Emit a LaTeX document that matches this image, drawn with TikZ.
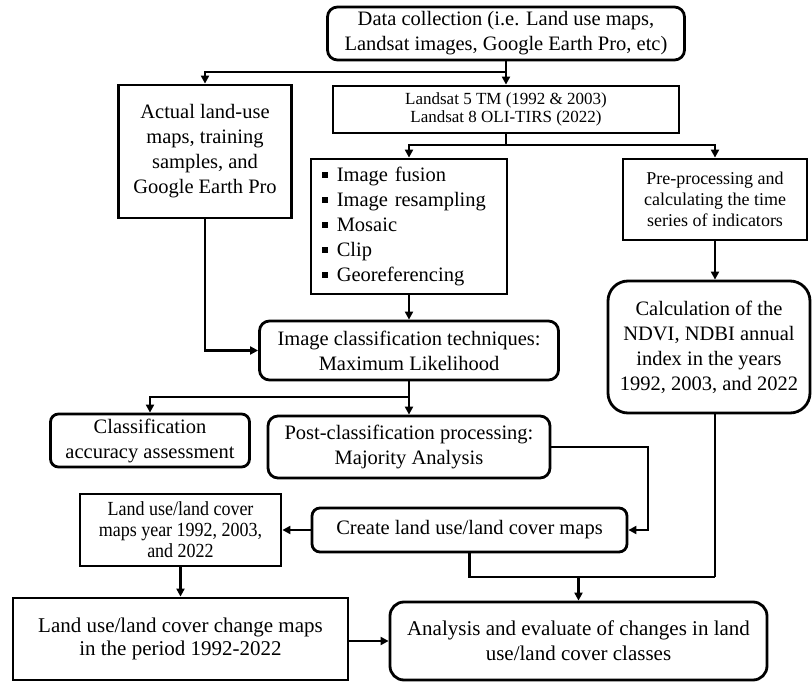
\documentclass[tikz,border=0pt]{standalone}
\usepackage{fontspec}
\setmainfont{Liberation Serif}
\newfontfamily\narrowfont[FakeStretch=0.9]{Liberation Serif}
\usetikzlibrary{arrows.meta}
\newcommand{\sqb}{\rule[0.18em]{0.27em}{0.27em}\hspace{0.45em}}
\begin{document}
\begin{tikzpicture}[x=1pt,y=-1pt,
  box/.style={draw, line width=2.8pt, align=center, inner sep=0pt,
    font=\fontsize{20.5}{25}\selectfont},
  rbox/.style={box, rounded corners=10pt},
  conn/.style={line width=2.8pt},
  arr/.style={conn, -{Triangle[length=8pt,width=8pt]}}]
\useasboundingbox (0,0) rectangle (812,682);

% nodes
\node[rbox, minimum width=357pt, minimum height=53pt] (data) at (506,33.5)
  {Data collection (i.e. Land use maps,\\Landsat images, Google Earth Pro, etc)};
\node[box, minimum width=346pt, minimum height=47pt, font=\fontsize{17}{18.5}\selectfont] (landsat) at (506,109.5)
  {Landsat 5 TM (1992 \& 2003)\\Landsat 8 OLI-TIRS (2022)};
\node[box, minimum width=173pt, minimum height=133pt] (actual) at (205,151.5)
  {Actual land-use\\maps, training\\samples, and\\Google Earth Pro};
\node[box, minimum width=196pt, minimum height=135pt, align=left, text width=174pt] (bullets) at (409,226.5)
  {\sqb Image fusion\\\sqb Image resampling\\\sqb Mosaic\\\sqb Clip\\\sqb Georeferencing};
\node[box, minimum width=184pt, minimum height=81pt, font=\fontsize{18}{21}\selectfont] (pre) at (715,199.5)
  {Pre-processing and\\calculating the time\\series of indicators};
\node[box, rounded corners=20pt, minimum width=202pt, minimum height=132pt] (calc) at (709,347)
  {Calculation of the\\NDVI, NDBI annual\\index in the years\\1992, 2003, and 2022};
\node[rbox, minimum width=299pt, minimum height=59pt] (imgc) at (409,350.5)
  {Image classification techniques:\\Maximum Likelihood};
\node[rbox, rounded corners=8pt, minimum width=199pt, minimum height=53pt] (acc) at (150,440.5)
  {Classification\\accuracy assessment};
\node[rbox, minimum width=282pt, minimum height=62pt] (post) at (409,447)
  {Post-classification processing:\\Majority Analysis};
\node[rbox, rounded corners=8pt, minimum width=315pt, minimum height=44pt] (create) at (469.5,530)
  {Create land use/land cover maps};
\node[box, minimum width=201pt, minimum height=72pt, font=\narrowfont\fontsize{20}{21}\selectfont] (lulc) at (180.5,530)
  {Land use/land cover\\maps year 1992, 2003,\\and 2022};
\node[box, minimum width=335pt, minimum height=82pt, font=\fontsize{21}{23.5}\selectfont] (change) at (180.5,639)
  {Land use/land cover change maps\\in the period 1992-2022};
\node[rbox, rounded corners=14pt, minimum width=377pt, minimum height=78pt, font=\fontsize{21}{25}\selectfont] (anal) at (578.5,641)
  {Analysis and evaluate of changes in land\\use/land cover classes};

% junctions
\coordinate (j1) at (506,72);
\coordinate (j2) at (506,145);
\coordinate (j3) at (409,397);
\coordinate (j4) at (648,447);
\coordinate (j5) at (715,577);

% connectors
\draw[conn] (data.south) -- (j1);
\draw[arr] (j1) -| (actual.north);
\draw[arr] (j1) -- (landsat.north);
\draw[conn] (landsat.south) -- (j2);
\draw[arr] (j2) -| (bullets.north);
\draw[arr] (j2) -| (pre.north);
\draw[arr] (pre.south) -- (pre.south |- calc.north);
\draw[arr] (bullets.south) -- (imgc.north);
\draw[arr] (actual.south) |- (imgc.west);
\draw[conn] (imgc.south) -- (j3);
\draw[arr] (j3) -| (acc.north);
\draw[arr] (j3) -- (post.north);
\draw[arr] (post.east) -- (j4) |- (create.east);
\draw[arr] (create.west) -- (lulc.east);
\draw[arr] (lulc.south) -- (change.north);
\draw[arr] (change.east |- anal.west) -- (anal.west);
\draw[conn] (create.south) |- (j5);
\draw[conn] (pre.south |- calc.south) -- (j5);
\draw[arr] (anal.north |- j5) -- (anal.north);
\end{tikzpicture}
\end{document}
